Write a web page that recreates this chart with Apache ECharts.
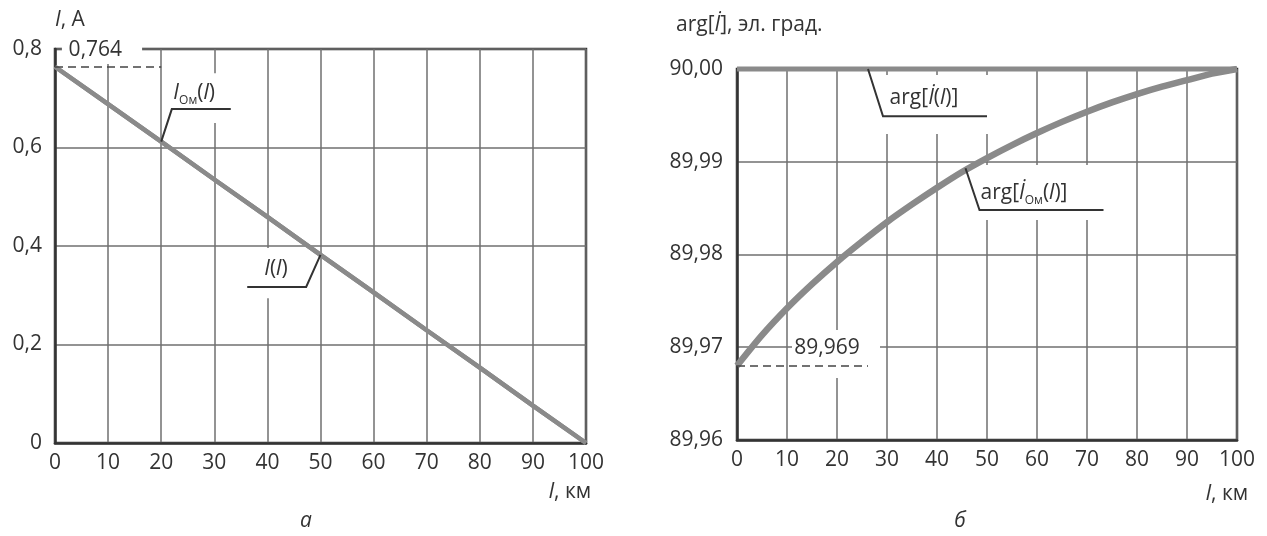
<!DOCTYPE html>
<html>
<head>
<meta charset="utf-8">
<script src="https://cdn.jsdelivr.net/npm/echarts@6/dist/echarts.min.js"></script>
<style>html,body{margin:0;padding:0;background:#fff}#c{width:1267px;height:536px}</style>
</head>
<body>
<div id="c"></div>
<script>
// ---- data ----
const distKm = [0, 10, 20, 30, 40, 50, 60, 70, 80, 90, 100];
const currentI = [0.764, 0.688, 0.612, 0.535, 0.459, 0.382, 0.306, 0.229, 0.153, 0.076, 0.000];
const currentIom = [0.764, 0.688, 0.612, 0.535, 0.459, 0.382, 0.306, 0.229, 0.153, 0.076, 0.000];
const distKmFine = [0, 5, 10, 15, 20, 25, 30, 35, 40, 45, 50, 55, 60, 65, 70, 75, 80, 85, 90, 95, 100];
const argIom = [89.968, 89.9713, 89.9742, 89.9768, 89.9792, 89.9814, 89.9835, 89.9854, 89.9872, 89.9889, 89.9904,
  89.9918, 89.9931, 89.9943, 89.9954, 89.9964, 89.9973, 89.9981, 89.9988, 89.9995, 90.0];
const argI = [90, 90, 90, 90, 90, 90, 90, 90, 90, 90, 90, 90, 90, 90, 90, 90, 90, 90, 90, 90, 90];
const leftYTicks = { min: 0, max: 0.8, step: 0.2 };
const rightYTicks = { min: 89.96, max: 90.0, step: 0.01 };
const markI0 = 0.764;
const markArg0 = 89.968;
const markArg0Text = '89,969';

const FONT = "'Open Sans', 'Noto Sans', sans-serif";
const FS = 21;
const TXT = '#333';
const GRIDC = '#6f6f6f';

function pairs(xs, ys) { return xs.map((x, i) => [x, ys[i]]); }

const chart = echarts.init(document.getElementById('c'), null, { renderer: 'canvas' });

function xAxisOf(gi) {
  return {
    type: 'value', gridIndex: gi, min: 0, max: 100, interval: 10,
    axisLine: { show: true, lineStyle: { color: TXT, width: 2.5 } },
    axisTick: { show: false },
    splitLine: { show: true, lineStyle: { color: GRIDC, width: 1.5 } },
    axisLabel: { margin: 10, fontSize: FS, color: TXT, fontFamily: FONT }
  };
}

const option = {
  animation: false,
  backgroundColor: '#fff',
  grid: [
    { left: 55, top: 49, width: 531, height: 394, show: true, borderColor: TXT, borderWidth: 2.5, backgroundColor: 'transparent' },
    { left: 737, top: 69, width: 500, height: 371, show: true, borderColor: TXT, borderWidth: 2.5, backgroundColor: 'transparent' }
  ],
  xAxis: [xAxisOf(0), xAxisOf(1)],
  yAxis: [
    {
      type: 'value', gridIndex: 0, min: leftYTicks.min, max: leftYTicks.max, interval: leftYTicks.step,
      axisLine: { show: true, lineStyle: { color: TXT, width: 2.5 } },
      axisTick: { show: false },
      splitLine: { show: true, lineStyle: { color: GRIDC, width: 1.5 } },
      axisLabel: { margin: 13, fontSize: FS, color: TXT, fontFamily: FONT,
        formatter: v => Math.abs(v) < 1e-9 ? '0' : v.toFixed(1).replace('.', ',') }
    },
    {
      type: 'value', gridIndex: 1, min: rightYTicks.min, max: rightYTicks.max, interval: rightYTicks.step,
      axisLine: { show: true, lineStyle: { color: TXT, width: 2.5 } },
      axisTick: { show: false },
      splitLine: { show: true, lineStyle: { color: GRIDC, width: 1.5 } },
      axisLabel: { margin: 14, fontSize: FS, color: TXT, fontFamily: FONT,
        formatter: v => v.toFixed(2).replace('.', ',') }
    }
  ],
  series: [
    {
      name: 'I(l)', type: 'line', xAxisIndex: 0, yAxisIndex: 0, data: pairs(distKm, currentI),
      symbol: 'none', z: 2, lineStyle: { color: '#8a8a8a', width: 4.5 },
      markLine: {
        silent: true, symbol: ['none', 'none'], label: { show: false },
        lineStyle: { type: [8, 5], color: '#444', width: 1.5 },
        data: [[{ coord: [0, markI0] }, { coord: [20, markI0] }]]
      }
    },
    {
      name: 'Iom(l)', type: 'line', xAxisIndex: 0, yAxisIndex: 0, data: pairs(distKm, currentIom),
      symbol: 'none', z: 2, lineStyle: { color: '#8a8a8a', width: 4.5 }
    },
    {
      name: 'argIom', type: 'line', xAxisIndex: 1, yAxisIndex: 1, data: pairs(distKmFine, argIom),
      symbol: 'none', z: 2, smooth: 0.3, lineStyle: { color: '#8a8a8a', width: 6.5 },
      markLine: {
        silent: true, symbol: ['none', 'none'], label: { show: false },
        lineStyle: { type: [8, 5], color: '#444', width: 1.5 },
        data: [[{ coord: [0, markArg0] }, { coord: [26.2, markArg0] }]]
      }
    },
    {
      name: 'argI', type: 'line', xAxisIndex: 1, yAxisIndex: 1, data: pairs(distKmFine, argI),
      symbol: 'none', z: 3, clip: false, lineStyle: { color: '#8a8a8a', width: 5 }
    }
  ]
};
chart.setOption(option);

const rich = {
  n: { fontSize: FS, fontFamily: FONT, fill: TXT, color: TXT, lineHeight: 27 },
  i: { fontSize: FS, fontFamily: FONT, fontStyle: 'italic', fill: TXT, color: TXT, lineHeight: 27 },
  s: { fontSize: 12, fontFamily: FONT, fill: TXT, color: TXT, lineHeight: 27, verticalAlign: 'bottom' }
};

function P(g, pt) { return chart.convertToPixel({ gridIndex: g }, pt); }

const annotations = [
  { g: 0, text: '{n|0,764}', at: [7.6, 0.797], rect: [[1.3, 0.8061], [16.4, 0.7695]], leader: null },
  { g: 0, text: '{i|I}{s|Ом}{n|(}{i|l}{n|)}', at: [26.2, 0.711], rect: [[20.7, 0.751], [34.1, 0.650]],
    leader: [[20, 0.612], [22.0, 0.678], [33.1, 0.678]] },
  { g: 0, text: '{i|I}{n|(}{i|l}{n|)}', at: [41.6, 0.353], rect: [[35.8, 0.396], [47.1, 0.294]],
    leader: [[50, 0.382], [47.3, 0.317], [36.2, 0.317]] },
  { g: 1, text: '{n|arg[}{i|I\u0307}{n|(}{i|l}{n|)]}', at: [37.4, 89.99687], rect: [[28.2, 89.99935], [51.6, 89.99299]],
    leader: [[26.2, 90.0], [29.2, 89.9949], [50, 89.9949]] },
  { g: 1, text: '{n|arg[}{i|I\u0307}{s|Ом}{n|(}{i|l}{n|)]}', at: [57.4, 89.98663], rect: [[48.2, 89.98965], [74.6, 89.98372]],
    leader: [[45.7, 89.9893], [48.5, 89.9848], [73.3, 89.9848]] },
  { g: 1, text: '{n|' + markArg0Text + '}', at: [18, 89.96992], rect: [[11, 89.97186], [28.6, 89.96668]], leader: null }
];

const graphic = [];
annotations.forEach(a => {
  const r0 = P(a.g, a.rect[0]), r1 = P(a.g, a.rect[1]);
  graphic.push({ type: 'rect', z: 1, silent: true,
    shape: { x: Math.min(r0[0], r1[0]), y: Math.min(r0[1], r1[1]), width: Math.abs(r1[0] - r0[0]), height: Math.abs(r1[1] - r0[1]) },
    style: { fill: '#fff' } });
  if (a.leader) {
    graphic.push({ type: 'polyline', z: 10, silent: true,
      shape: { points: a.leader.map(p => P(a.g, p)) },
      style: { stroke: TXT, lineWidth: 2, fill: null } });
  }
  const c = P(a.g, a.at);
  graphic.push({ type: 'text', z: 10, silent: true, x: c[0], y: c[1],
    style: { text: a.text, rich: rich, align: 'center', verticalAlign: 'middle', fill: TXT } });
});

// axis names and captions
graphic.push({ type: 'text', z: 10, x: 55, y: 20, style: { text: '{i|I}{n|, A}', rich: rich, align: 'left', verticalAlign: 'middle' } });
graphic.push({ type: 'text', z: 10, x: 676, y: 25, style: { text: '{n|arg[}{i|I\u0307}{n|], эл. град.}', rich: rich, align: 'left', verticalAlign: 'middle' } });
graphic.push({ type: 'text', z: 10, x: 570, y: 492, style: { text: '{i|l}{n|, км}', rich: rich, align: 'center', verticalAlign: 'middle' } });
graphic.push({ type: 'text', z: 10, x: 1227, y: 494, style: { text: '{i|l}{n|, км}', rich: rich, align: 'center', verticalAlign: 'middle' } });
graphic.push({ type: 'text', z: 10, x: 306, y: 521, style: { text: '{i|а}', rich: rich, align: 'center', verticalAlign: 'middle' } });
graphic.push({ type: 'text', z: 10, x: 960, y: 521, style: { text: '{i|б}', rich: rich, align: 'center', verticalAlign: 'middle' } });

chart.setOption({ graphic: graphic });
</script>
</body>
</html>
